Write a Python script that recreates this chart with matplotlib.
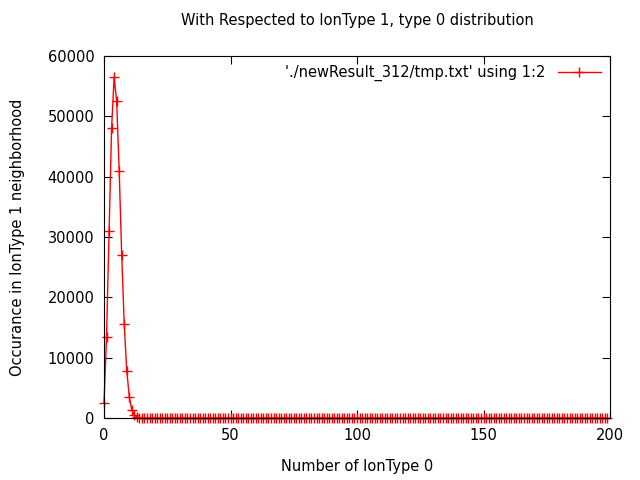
import numpy as np
import matplotlib
matplotlib.use("Agg")
import matplotlib.pyplot as plt

x = list(range(0, 200))
peak = [2500, 13500, 31000, 48000, 56500, 52500, 41000, 27000, 15500, 7800,
        3500, 1300, 500, 150, 50]
y = peak + [0] * (len(x) - len(peak))

fig = plt.figure(figsize=(6.4, 4.8), dpi=100)
ax = fig.add_axes([104 / 640, 1 - 418 / 480, (610 - 104) / 640, (418 - 56) / 480])
ax.plot(x, y, color="red", lw=1, marker="+", ms=7, mew=1, clip_on=False,
        label="'./newResult_312/tmp.txt' using 1:2")
ax.set_xlim(0, 200)
ax.set_ylim(0, 60000)
ax.set_xticks(range(0, 201, 50))
ax.set_yticks(range(0, 60001, 10000))
ax.tick_params(direction="in", top=True, right=True, labelsize=10.5, length=6, pad=7)
ax.set_xlabel("Number of IonType 0", fontsize=10.5, labelpad=12)
ax.set_ylabel("Occurance in IonType 1 neighborhood", fontsize=10.5, labelpad=16)
ax.set_title("With Respected to IonType 1, type 0 distribution", fontsize=10.5, pad=22)
leg = ax.legend(loc="upper right", frameon=False, fontsize=10.5, markerfirst=False,
                handlelength=3, borderaxespad=0.2)
fig.savefig("out.png")
